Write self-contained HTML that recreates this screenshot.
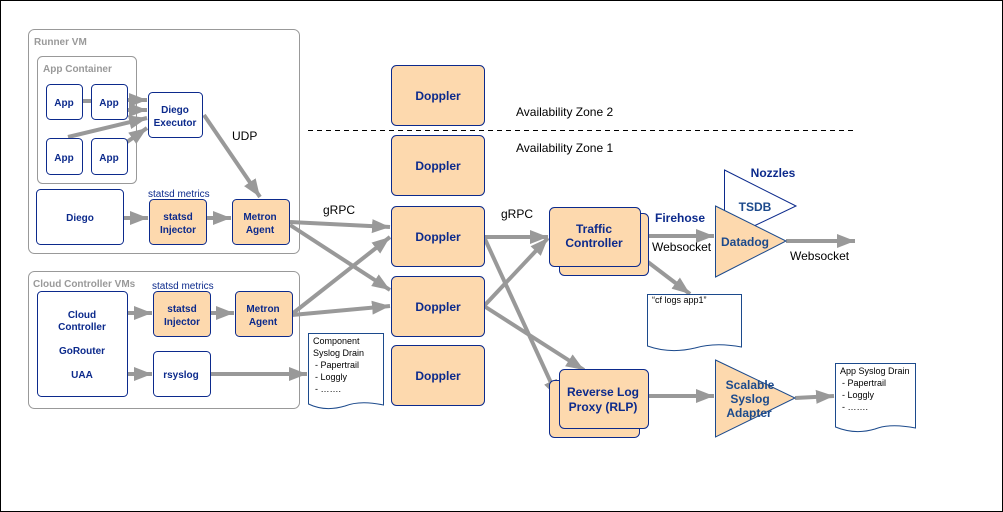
<!DOCTYPE html>
<html><head><style>body{margin:0;background:#fff}svg{display:block}</style></head><body>
<svg width="1003" height="512" viewBox="0 0 1003 512" xmlns="http://www.w3.org/2000/svg" font-family="Liberation Sans, Arial, sans-serif">
<defs>
<marker id="a" markerUnits="userSpaceOnUse" markerWidth="20" markerHeight="16" refX="18" refY="8" orient="auto"><path d="M0,1 L18,8 L0,15 Z" fill="#999"/></marker>
</defs>
<rect x="0.5" y="0.5" width="1002" height="511" fill="#fff" stroke="#000"/>
<!-- Runner VM -->
<rect x="28.5" y="29.5" width="271" height="224" rx="6" fill="#fff" stroke="#999"/>
<text x="34" y="45" font-size="10" font-weight="bold" fill="#999">Runner VM</text>
<rect x="37.5" y="56.5" width="99" height="127" rx="5" fill="#fff" stroke="#999"/>
<text x="43" y="72" font-size="10" font-weight="bold" fill="#999">App Container</text>
<g stroke="#999" stroke-width="4" fill="none">
<line x1="82" y1="101" x2="91" y2="101"/>
<line x1="127" y1="100" x2="147" y2="100" marker-end="url(#a)"/>
<line x1="127" y1="110" x2="147" y2="110" marker-end="url(#a)"/>
<line x1="68" y1="137" x2="147" y2="118" marker-end="url(#a)"/>
<line x1="127" y1="142" x2="147" y2="128" marker-end="url(#a)"/>
<line x1="204" y1="115" x2="260" y2="197" marker-end="url(#a)"/>
<line x1="123" y1="218" x2="148" y2="218" marker-end="url(#a)"/>
<line x1="206" y1="218" x2="231" y2="218" marker-end="url(#a)"/>
<line x1="127" y1="313" x2="152" y2="313" marker-end="url(#a)"/>
<line x1="210" y1="313" x2="234" y2="313" marker-end="url(#a)"/>
<line x1="127" y1="374" x2="152" y2="374" marker-end="url(#a)"/>
<line x1="210" y1="374" x2="307" y2="374" marker-end="url(#a)"/>
<line x1="290" y1="222" x2="390" y2="227" marker-end="url(#a)"/>
<line x1="290" y1="225" x2="390" y2="290" marker-end="url(#a)"/>
<line x1="292" y1="314" x2="390" y2="237" marker-end="url(#a)"/>
<line x1="292" y1="315" x2="390" y2="306" marker-end="url(#a)"/>
<line x1="484" y1="237" x2="548" y2="237" marker-end="url(#a)"/>
<line x1="484" y1="306" x2="548" y2="238" marker-end="url(#a)"/>
<line x1="484" y1="306" x2="584" y2="370" marker-end="url(#a)"/>
<line x1="484" y1="237" x2="558" y2="398" marker-end="url(#a)"/>
<line x1="640" y1="236" x2="714" y2="236" marker-end="url(#a)"/>
<line x1="640" y1="256" x2="690" y2="294" marker-end="url(#a)"/>
<line x1="786" y1="241" x2="855" y2="241" marker-end="url(#a)"/>
<line x1="648" y1="396" x2="714" y2="396" marker-end="url(#a)"/>
<line x1="795" y1="398" x2="834" y2="396" marker-end="url(#a)"/>
</g>
<g fill="#fff" stroke="#0c2a8c" stroke-width="1">
<rect x="46.5" y="84.5" width="36" height="35" rx="4"/>
<rect x="91.5" y="84.5" width="36" height="35" rx="4"/>
<rect x="46.5" y="138.5" width="36" height="36" rx="4"/>
<rect x="91.5" y="138.5" width="36" height="36" rx="4"/>
<rect x="148.5" y="92.5" width="54" height="45" rx="4"/>
<rect x="36.5" y="189.5" width="87" height="55" rx="4"/>
</g>
<g fill="#fdd9ae" stroke="#0c2a8c">
<rect x="149.5" y="199.5" width="57" height="45" rx="4"/>
<rect x="232.5" y="199.5" width="57" height="45" rx="4"/>
</g>
<!-- CC VMs -->
<rect x="28.5" y="271.5" width="271" height="137" rx="6" fill="none" stroke="#999"/>
<text x="33" y="287" font-size="10" font-weight="bold" fill="#999">Cloud Controller VMs</text>
<rect x="37.5" y="291.5" width="90" height="105" rx="4" fill="#fff" stroke="#0c2a8c"/>
<rect x="153.5" y="351.5" width="57" height="45" rx="4" fill="#fff" stroke="#0c2a8c"/>
<g fill="#fdd9ae" stroke="#0c2a8c">
<rect x="153.5" y="291.5" width="57" height="45" rx="4"/>
<rect x="235.5" y="291.5" width="57" height="45" rx="4"/>
<rect x="391.5" y="65.5" width="93" height="60" rx="5"/>
<rect x="391.5" y="135.5" width="93" height="60" rx="5"/>
<rect x="391.5" y="206.5" width="93" height="60" rx="5"/>
<rect x="391.5" y="276.5" width="93" height="60" rx="5"/>
<rect x="391.5" y="345.5" width="93" height="60" rx="5"/>
<rect x="559.5" y="213.5" width="89" height="62" rx="5"/>
<rect x="549.5" y="207.5" width="91" height="59" rx="5"/>
<rect x="549.5" y="380.5" width="90" height="57" rx="5"/>
<rect x="559.5" y="369.5" width="89" height="59" rx="5"/>
</g>
<g font-size="10" font-weight="bold" fill="#0c2a8c" text-anchor="middle">
<text x="64" y="106">App</text><text x="109" y="106">App</text>
<text x="64" y="161">App</text><text x="109" y="161">App</text>
<text x="175" y="113">Diego</text><text x="175" y="126">Executor</text>
<text x="80" y="221">Diego</text>
<text x="178" y="220">statsd</text><text x="178" y="233">Injector</text>
<text x="260" y="220">Metron</text><text x="260" y="233">Agent</text>
<text x="182" y="312">statsd</text><text x="182" y="325">Injector</text>
<text x="263" y="312">Metron</text><text x="263" y="325">Agent</text>
<text x="82" y="318">Cloud</text><text x="82" y="330">Controller</text>
<text x="82" y="354">GoRouter</text><text x="82" y="378">UAA</text>
<text x="181" y="378">rsyslog</text>
<g font-size="12"><text x="438" y="100">Doppler</text><text x="438" y="170">Doppler</text><text x="438" y="241">Doppler</text><text x="438" y="311">Doppler</text><text x="438" y="380">Doppler</text>
<text x="594" y="233">Traffic</text><text x="594" y="247">Controller</text>
<text x="603" y="396">Reverse Log</text><text x="603" y="411">Proxy (RLP)</text>
<text x="680" y="222">Firehose</text><text x="773" y="177">Nozzles</text></g>
</g>
<g font-size="10" fill="#0c2a8c"><text x="148" y="197">statsd metrics</text><text x="152" y="289">statsd metrics</text></g>
<g font-size="12" fill="#000"><text x="232" y="140">UDP</text><text x="323" y="214">gRPC</text><text x="501" y="218">gRPC</text>
<text x="516" y="116">Availability Zone 2</text><text x="516" y="152">Availability Zone 1</text>
<text x="652" y="251">Websocket</text><text x="790" y="260">Websocket</text></g>
<line x1="308" y1="130.5" x2="857" y2="130.5" stroke="#000" stroke-dasharray="5,4"/>
<!-- triangles -->
<polygon points="724.5,170 796,206 724.5,240" fill="#fff" stroke="#0c2a8c"/>
<text x="755" y="211" font-size="12" font-weight="bold" fill="#1c4a8c" text-anchor="middle">TSDB</text>
<polygon points="715.5,206 786,241 715.5,277" fill="#fdd9ae" stroke="#1c4a8c"/>
<text x="745" y="246" font-size="12" font-weight="bold" fill="#1c4a8c" text-anchor="middle">Datadog</text>
<polygon points="715.5,360 795,398 715.5,437" fill="#fdd9ae" stroke="#1c4a8c"/>
<g font-size="12" font-weight="bold" fill="#1c4a8c" text-anchor="middle"><text x="750" y="389">Scalable</text><text x="750" y="403">Syslog</text><text x="749" y="417">Adapter</text></g>
<!-- docs -->
<g fill="#fff" stroke="#1c4a8c">
<path d="M308.5,333.5 H383.5 V405 Q360,400 345,406 Q325,412 308.5,404 Z"/>
<path d="M647.5,294.5 H741.5 V347 Q715,342 695,348 Q670,354 647.5,346 Z"/>
<path d="M835.5,363.5 H915.5 V428 Q890,423 875,429 Q855,435 835.5,427 Z"/>
</g>
<g font-size="9" fill="#000">
<text x="313" y="344">Component</text><text x="313" y="356">Syslog Drain</text><text x="315" y="368">- Papertrail</text><text x="315" y="380">- Loggly</text><text x="315" y="392">- …….</text>
<text x="652" y="303">“cf logs app1”</text>
<text x="840" y="374">App Syslog Drain</text><text x="842" y="386">- Papertrail</text><text x="842" y="398">- Loggly</text><text x="842" y="410">- …….</text>
</g>
</svg>
</body></html>
